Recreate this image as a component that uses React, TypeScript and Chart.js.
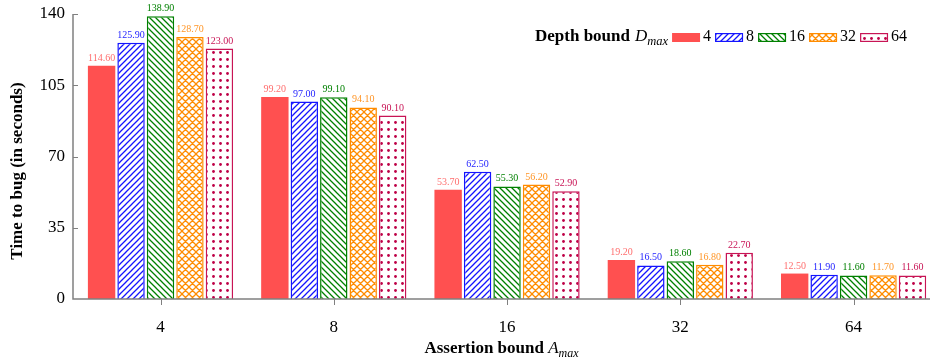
import React, { useEffect, useRef } from 'react';
import { Chart, registerables } from 'chart.js';

Chart.register(...registerables);

// ---- data ----
const categories = ['4', '8', '16', '32', '64'];
const depthLabels = ['4', '8', '16', '32', '64'];
const depth4 = [114.6, 99.2, 53.7, 19.2, 12.5];
const depth8 = [125.9, 97.0, 62.5, 16.5, 11.9];
const depth16 = [138.9, 99.1, 55.3, 18.6, 11.6];
const depth32 = [128.7, 94.1, 56.2, 16.8, 11.7];
const depth64 = [123.0, 90.1, 52.9, 22.7, 11.6];
const yTicks = [0, 35, 70, 105, 140];

const FONT = '"Liberation Serif", "Times New Roman", serif';

type Kind = 'solid' | 'ne' | 'nw' | 'cross' | 'dots';
const styles: { kind: Kind; color: string; border: string; label: string }[] = [
  { kind: 'solid', color: 'rgb(255,80,80)', border: 'rgb(255,80,80)', label: 'rgb(255,110,110)' },
  { kind: 'ne', color: 'rgb(20,20,255)', border: 'rgb(20,20,255)', label: 'rgb(30,30,255)' },
  { kind: 'nw', color: 'rgb(0,128,0)', border: 'rgb(0,128,0)', label: 'rgb(0,128,0)' },
  { kind: 'cross', color: 'rgb(255,140,0)', border: 'rgb(255,140,0)', label: 'rgb(255,150,40)' },
  { kind: 'dots', color: 'rgb(190,0,70)', border: 'rgb(200,20,85)', label: 'rgb(200,20,85)' },
];
const seriesValues = [depth4, depth8, depth16, depth32, depth64];

function makePattern(kind: Kind, color: string): CanvasPattern | string {
  if (kind === 'solid') return color;
  const c = document.createElement('canvas');
  const s = kind === 'dots' ? 7 : kind === 'cross' ? 7 : 6;
  c.width = s;
  c.height = s;
  const g = c.getContext('2d')!;
  g.fillStyle = '#fff';
  g.fillRect(0, 0, s, s);
  g.strokeStyle = color;
  g.fillStyle = color;
  g.lineWidth = 1.3;
  const ne = () => {
    g.moveTo(-1, s + 1); g.lineTo(s + 1, -1);
    g.moveTo(-1, 1); g.lineTo(1, -1);
    g.moveTo(s - 1, s + 1); g.lineTo(s + 1, s - 1);
  };
  const nw = () => {
    g.moveTo(-1, -1); g.lineTo(s + 1, s + 1);
    g.moveTo(s - 1, -1); g.lineTo(s + 1, 1);
    g.moveTo(-1, s - 1); g.lineTo(1, s + 1);
  };
  if (kind === 'ne') { g.beginPath(); ne(); g.stroke(); }
  if (kind === 'nw') { g.beginPath(); nw(); g.stroke(); }
  if (kind === 'cross') { g.beginPath(); ne(); nw(); g.stroke(); }
  if (kind === 'dots') {
    g.beginPath();
    g.arc(s / 2, s / 2, 1.4, 0, Math.PI * 2);
    g.fill();
  }
  const p = g.createPattern(c, 'repeat');
  return p || color;
}

export default function App() {
  const ref = useRef<HTMLCanvasElement | null>(null);

  useEffect(() => {
    document.body.style.margin = '0';
    const canvas = ref.current!;
    const patterns = styles.map((s) => makePattern(s.kind, s.color));

    const overlay = {
      id: 'overlay',
      afterDraw(chart: any) {
        const ctx: CanvasRenderingContext2D = chart.ctx;
        const area = chart.chartArea;
        const xs = chart.scales.x;
        const ys = chart.scales.y;
        ctx.save();

        // data labels
        ctx.font = `10px ${FONT}`;
        ctx.textAlign = 'center';
        ctx.textBaseline = 'alphabetic';
        chart.data.datasets.forEach((ds: any, di: number) => {
          const meta = chart.getDatasetMeta(di);
          meta.data.forEach((bar: any, i: number) => {
            ctx.fillStyle = styles[di].label;
            ctx.fillText(seriesValues[di][i].toFixed(2), bar.x, bar.y - 5);
          });
        });

        // axes
        ctx.strokeStyle = '#808080';
        ctx.lineWidth = 1.5;
        const y0 = ys.getPixelForValue(0);
        const yTop = ys.getPixelForValue(140);
        ctx.beginPath();
        ctx.moveTo(area.left, yTop);
        ctx.lineTo(area.left, y0);
        ctx.lineTo(area.right, y0);
        ctx.stroke();
        ctx.lineWidth = 1;
        ctx.beginPath();
        yTicks.forEach((v) => {
          if (v === 0) return;
          const py = Math.round(ys.getPixelForValue(v)) + 0.5;
          ctx.moveTo(area.left, py);
          ctx.lineTo(area.left + 5, py);
        });
        categories.forEach((_, i) => {
          const px = Math.round(xs.getPixelForValue(i)) + 0.5;
          ctx.moveTo(px, y0);
          ctx.lineTo(px, y0 + 6);
        });
        ctx.stroke();

        // y title
        ctx.fillStyle = '#000';
        ctx.save();
        ctx.translate(18, 171);
        ctx.rotate(-Math.PI / 2);
        ctx.font = `bold 17px ${FONT}`;
        ctx.textAlign = 'center';
        ctx.textBaseline = 'middle';
        ctx.fillText('Time to bug (in seconds)', 0, 0);
        ctx.restore();

        // x title
        ctx.textAlign = 'left';
        ctx.textBaseline = 'alphabetic';
        const t1 = 'Assertion bound ';
        ctx.font = `bold 17px ${FONT}`;
        const w1 = ctx.measureText(t1).width;
        ctx.font = `italic 17px ${FONT}`;
        const w2 = ctx.measureText('A').width;
        ctx.font = `italic 12px ${FONT}`;
        const w3 = ctx.measureText('max').width;
        const total = w1 + w2 + w3;
        let tx = (area.left + area.right) / 2 - total / 2;
        const tb = 353;
        ctx.font = `bold 17px ${FONT}`;
        ctx.fillText(t1, tx, tb);
        tx += w1;
        ctx.font = `italic 17px ${FONT}`;
        ctx.fillText('A', tx, tb);
        tx += w2;
        ctx.font = `italic 12px ${FONT}`;
        ctx.fillText('max', tx, tb + 4);

        // legend
        let lx = 535;
        const lb = 41;
        ctx.font = `bold 17px ${FONT}`;
        ctx.fillText('Depth bound', lx, lb);
        lx += ctx.measureText('Depth bound').width + 5;
        ctx.font = `italic 17px ${FONT}`;
        ctx.fillText('D', lx, lb);
        lx += ctx.measureText('D').width;
        ctx.font = `italic 12.5px ${FONT}`;
        ctx.fillText('max', lx, lb + 4);
        lx += ctx.measureText('max').width + 4;
        styles.forEach((s, i) => {
          ctx.fillStyle = patterns[i] as any;
          ctx.fillRect(lx, 33, 28, 9);
          if (s.kind !== 'solid') {
            ctx.strokeStyle = s.border;
            ctx.lineWidth = 1.2;
            ctx.strokeRect(lx + 0.6, 33.6, 26.8, 7.8);
          }
          lx += 28 + 3;
          ctx.fillStyle = '#000';
          ctx.font = `16px ${FONT}`;
          ctx.fillText(depthLabels[i], lx, lb);
          lx += ctx.measureText(depthLabels[i]).width + 4;
        });

        ctx.restore();
      },
    };

    const chart = new Chart(canvas, {
      type: 'bar',
      data: {
        datasets: styles.map((s, di) => ({
          label: depthLabels[di],
          data: seriesValues[di].map((v, i) => ({ x: i, y: v })),
          backgroundColor: patterns[di] as any,
          borderColor: s.border,
          borderWidth: s.kind === 'solid' ? 0 : 1.5,
          borderSkipped: 'start',
          categoryPercentage: 0.85,
          barPercentage: 0.93,
        })),
      },
      options: {
        responsive: false,
        animation: false,
        devicePixelRatio: 1,
        layout: { padding: { top: 14, left: 0, right: 0, bottom: 0 } },
        plugins: { legend: { display: false }, tooltip: { enabled: false } },
        scales: {
          x: {
            type: 'linear',
            min: -0.505,
            max: 4.441,
            offset: false,
            afterBuildTicks: (s: any) => {
              s.ticks = categories.map((_, i) => ({ value: i }));
            },
            afterFit: (s: any) => {
              s.height = 61;
            },
            grid: { display: false, offset: false },
            border: { display: false },
            ticks: {
              callback: (v: any) => categories[v as number] ?? '',
              font: { family: FONT, size: 17 },
              color: '#000',
              padding: 10,
              maxRotation: 0,
              autoSkip: false,
            },
          },
          y: {
            type: 'linear',
            min: 0,
            max: 140,
            afterBuildTicks: (s: any) => {
              s.ticks = yTicks.map((v) => ({ value: v }));
            },
            afterFit: (s: any) => {
              s.width = 73;
            },
            grid: { display: false },
            border: { display: false },
            ticks: {
              font: { family: FONT, size: 17 },
              color: '#000',
              padding: 0,
            },
          },
        },
      } as any,
      plugins: [overlay],
    });

    return () => chart.destroy();
  }, []);

  return (
    <div style={{ width: 930, height: 360 }}>
      <canvas ref={ref} width={930} height={360} style={{ display: 'block' }} />
    </div>
  );
}
